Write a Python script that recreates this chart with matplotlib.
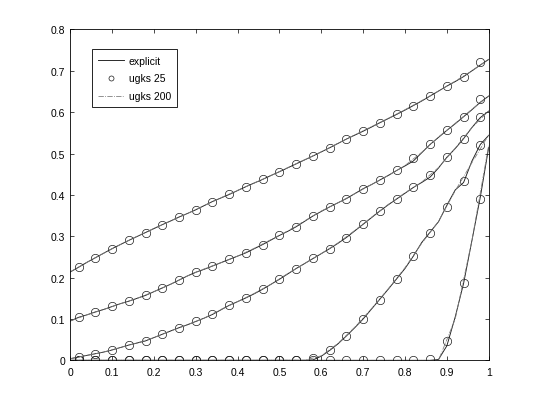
import matplotlib.pyplot as plt
import numpy as np

plt.rcParams['font.family'] = ['Liberation Sans', 'DejaVu Sans']

# grid of the explicit solution (step 0.02)
x_explicit = np.linspace(0, 1, 51)
explicit_1 = [0.2135, 0.225, 0.237, 0.248, 0.259, 0.270, 0.280, 0.290, 0.2995, 0.309,
              0.3185, 0.328, 0.337, 0.3465, 0.355, 0.364, 0.374, 0.384, 0.3925, 0.401,
              0.4105, 0.420, 0.4288, 0.4375, 0.447, 0.456, 0.4655, 0.475, 0.4845, 0.494,
              0.504, 0.514, 0.5245, 0.535, 0.5445, 0.554, 0.564, 0.5745, 0.5845, 0.5946,
              0.605, 0.616, 0.627, 0.639, 0.651, 0.663, 0.674, 0.686, 0.700, 0.714, 0.7275]
explicit_2 = [0.095, 0.104, 0.110, 0.117, 0.123, 0.130, 0.137, 0.143, 0.150, 0.157,
              0.166, 0.175, 0.184, 0.194, 0.204, 0.213, 0.220, 0.228, 0.236, 0.244,
              0.252, 0.260, 0.270, 0.280, 0.291, 0.302, 0.312, 0.323, 0.336, 0.349,
              0.360, 0.371, 0.381, 0.391, 0.403, 0.415, 0.425, 0.436, 0.447, 0.459,
              0.470, 0.482, 0.502, 0.522, 0.539, 0.556, 0.572, 0.589, 0.606, 0.624, 0.639]
explicit_3 = [0.004, 0.008, 0.012, 0.016, 0.020, 0.025, 0.031, 0.037, 0.042, 0.047,
              0.055, 0.063, 0.071, 0.079, 0.086, 0.094, 0.102, 0.111, 0.122, 0.133,
              0.142, 0.151, 0.161, 0.172, 0.184, 0.196, 0.209, 0.222, 0.234, 0.246,
              0.258, 0.270, 0.283, 0.297, 0.313, 0.329, 0.345, 0.361, 0.376, 0.390,
              0.404, 0.418, 0.430, 0.443, 0.465, 0.491, 0.512, 0.536, 0.563, 0.587, 0.6025]
explicit_4 = [0, 0, 0, 0, 0, 0, 0, 0, 0, 0,
              0, 0, 0, 0, 0, 0, 0, 0, 0, 0,
              0, 0, 0, 0, 0, 0, 0, 0, 0, 0.001,
              0.010, 0.024, 0.040, 0.059, 0.079, 0.100, 0.124, 0.148, 0.172, 0.197,
              0.222, 0.252, 0.285, 0.310, 0.335, 0.375, 0.412, 0.430, 0.482, 0.522, 0.544]
explicit_5 = [0, 0, 0, 0, 0, 0, 0, 0, 0, 0,
              0, 0, 0, 0, 0, 0, 0, 0, 0, 0,
              0, 0, 0, 0, 0, 0, 0, 0, 0, 0,
              0, 0, 0, 0, 0, 0, 0, 0, 0, 0,
              0, 0, 0, 0, 0.002, 0.035, 0.105, 0.186, 0.290, 0.395, 0.515]

# ugks with 25 cells (cell centres)
x_ugks25 = np.linspace(0.02, 0.98, 25)
ugks25_1 = [0.2255, 0.248, 0.270, 0.290, 0.309, 0.328, 0.3465, 0.364, 0.384, 0.401,
            0.420, 0.4375, 0.456, 0.475, 0.494, 0.514, 0.535, 0.554, 0.5745, 0.5946,
            0.616, 0.639, 0.663, 0.6856, 0.722]
ugks25_2 = [0.1047, 0.1176, 0.1305, 0.144, 0.158, 0.1757, 0.194, 0.2135, 0.228, 0.244,
            0.260, 0.280, 0.302, 0.323, 0.349, 0.371, 0.391, 0.415, 0.4358, 0.459,
            0.488, 0.522, 0.5566, 0.589, 0.631]
ugks25_3 = [0.009, 0.016, 0.025, 0.037, 0.0467, 0.063, 0.079, 0.094, 0.111, 0.133,
            0.1515, 0.1716, 0.196, 0.222, 0.2465, 0.270, 0.2965, 0.329, 0.361, 0.390,
            0.419, 0.448, 0.4915, 0.536, 0.589]
ugks25_4 = [0, 0, 0, 0, 0, 0, 0, 0, 0, 0,
            0, 0, 0, 0, 0.0065, 0.025, 0.059, 0.099, 0.147, 0.197,
            0.252, 0.309, 0.3705, 0.433, 0.5196]
ugks25_5 = [0, 0, 0, 0, 0, 0, 0, 0, 0, 0,
            0, 0, 0, 0, 0, 0, 0, 0, 0, 0,
            0, 0.004, 0.047, 0.186, 0.391]

# ugks with 200 cells (read on a 0.04 grid)
x_ugks200 = np.linspace(0, 1, 26)
ugks200_1 = [0.214, 0.237, 0.259, 0.280, 0.300, 0.319, 0.337, 0.355, 0.374, 0.393,
             0.411, 0.429, 0.447, 0.466, 0.485, 0.504, 0.525, 0.545, 0.565, 0.585,
             0.606, 0.628, 0.651, 0.675, 0.700, 0.728]
ugks200_2 = [0.095, 0.110, 0.123, 0.137, 0.150, 0.166, 0.184, 0.204, 0.221, 0.236,
             0.252, 0.271, 0.292, 0.313, 0.337, 0.361, 0.381, 0.403, 0.425, 0.447,
             0.471, 0.503, 0.540, 0.573, 0.607, 0.639]
ugks200_3 = [0.004, 0.012, 0.020, 0.031, 0.042, 0.055, 0.071, 0.086, 0.102, 0.123,
             0.142, 0.162, 0.184, 0.210, 0.234, 0.258, 0.284, 0.314, 0.346, 0.377,
             0.405, 0.431, 0.466, 0.513, 0.563, 0.603]
ugks200_4 = [0, 0, 0, 0, 0, 0, 0, 0, 0, 0,
             0, 0, 0, 0, 0, 0.011, 0.041, 0.080, 0.125, 0.173,
             0.224, 0.283, 0.336, 0.410, 0.478, 0.545]
ugks200_5 = [0, 0, 0, 0, 0, 0, 0, 0, 0, 0,
             0, 0, 0, 0, 0, 0, 0, 0, 0, 0,
             0, 0, 0, 0.100, 0.290, 0.520]

explicit = [explicit_1, explicit_2, explicit_3, explicit_4, explicit_5]
ugks25 = [ugks25_1, ugks25_2, ugks25_3, ugks25_4, ugks25_5]
ugks200 = [ugks200_1, ugks200_2, ugks200_3, ugks200_4, ugks200_5]

fig = plt.figure(figsize=(5.4, 4.06), dpi=100)
ax = fig.add_axes([0.13, 0.11, 0.775, 0.815])

for i in range(5):
    lab = 'explicit' if i == 0 else None
    ax.plot(x_explicit, explicit[i], '-', color='0.1', lw=0.65, label=lab)
for i in range(5):
    lab = 'ugks 25' if i == 0 else None
    ax.plot(x_ugks25, ugks25[i], 'o', mfc='none', mec='0.1', ms=6.0, mew=0.5, label=lab)
for i in range(5):
    lab = 'ugks 200' if i == 0 else None
    ax.plot(x_ugks200, ugks200[i], '-.', color='0.5', lw=0.6, label=lab)

ax.set_xlim(0, 1)
ax.set_ylim(0, 0.8)
ax.set_xticks(np.arange(0, 1.01, 0.1))
ax.set_yticks(np.arange(0, 0.81, 0.1))
ax.set_xticklabels(['0', '0.1', '0.2', '0.3', '0.4', '0.5', '0.6', '0.7', '0.8', '0.9', '1'])
ax.set_yticklabels(['0', '0.1', '0.2', '0.3', '0.4', '0.5', '0.6', '0.7', '0.8'])
ax.tick_params(direction='in', length=3, width=0.5, top=True, right=True, labelsize=7.5)
ax.tick_params(axis='x', pad=5)
for s in ax.spines.values():
    s.set_linewidth(0.6)

leg = ax.legend(loc='upper left', bbox_to_anchor=(0.052, 0.94), borderaxespad=0,
                fontsize=7.5, handlelength=2.5, handletextpad=0.45, labelspacing=0.75,
                markerscale=0.6, fancybox=False, framealpha=1, edgecolor='black',
                borderpad=0.6)
leg.get_frame().set_linewidth(0.6)

fig.savefig('out.png', dpi=100)
